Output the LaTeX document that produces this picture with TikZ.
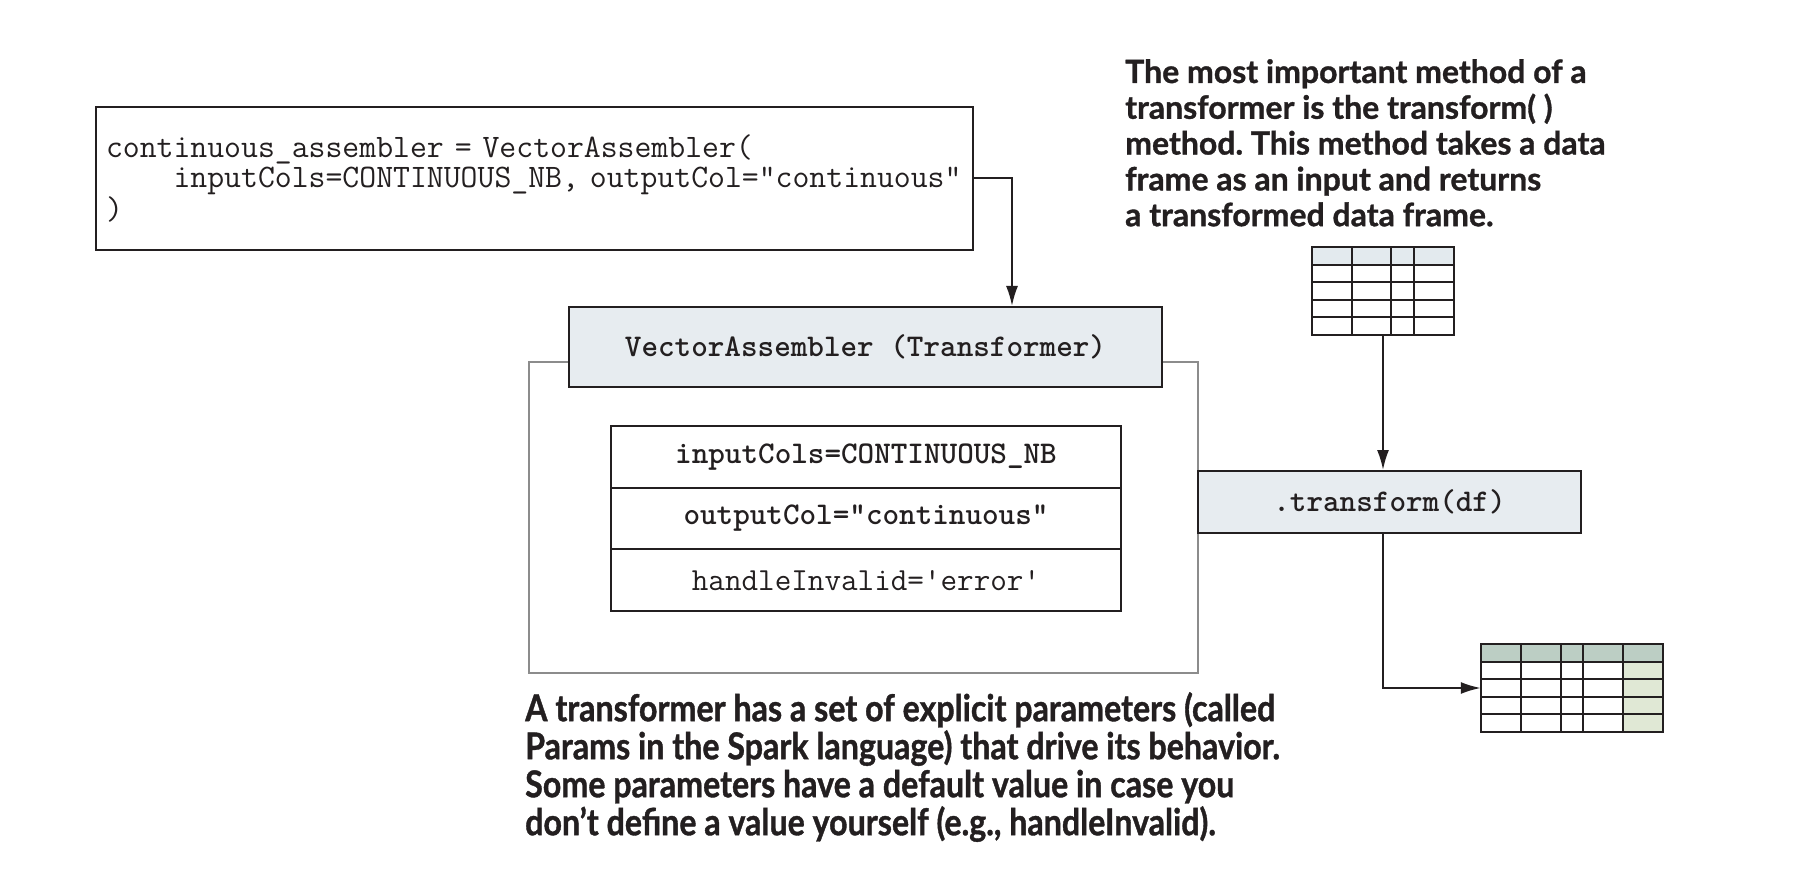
\documentclass[tikz,border=0pt]{standalone}
\usepackage{fontspec}
\newfontfamily\annfont{Lato}[BoldFeatures={FakeBold=1}]
\newfontfamily\annfontc{Lato}[FakeStretch=0.87,BoldFeatures={FakeBold=1}]
\usetikzlibrary{arrows.meta}
\definecolor{ink}{HTML}{231F20}
\definecolor{hdr}{HTML}{E7ECF0}
\definecolor{outerg}{HTML}{8C8C8C}
\definecolor{thead}{HTML}{E3EAEE}
\definecolor{ghead}{HTML}{BCCEC4}
\definecolor{gcol}{HTML}{E0E8D5}
\frenchspacing
\begin{document}
\begin{tikzpicture}[x=1pt,y=-1pt,
  codefont/.style={font=\ttfamily\fontsize{32.2}{30}\selectfont},
  box/.style={draw=ink, line width=2pt, rectangle, inner sep=0pt, text=ink, codefont},
  boldbox/.style={box, font=\ttfamily\bfseries\fontsize{31.6}{30}\selectfont},
  arr/.style={draw=ink, line width=2pt, -{Latex[length=20pt,width=12pt]}},
  grid/.style={draw=ink, line width=2pt},
  note/.style={anchor=north west, inner sep=0pt, align=left, text=ink}]
\fill[white] (0,0) rectangle (1810,874);
\useasboundingbox (0,0) rectangle (1810,874);

% outer transformer frame
\node[draw=outerg, line width=2pt, rectangle, minimum width=669pt, minimum height=311pt] (outer) at (863.5,517.5) {};

% code box
\node[box, font=\ttfamily\fontsize{32.8}{30}\selectfont, minimum width=877pt, minimum height=143pt, text width=857pt, align=left] (code) at (534.5,178.5)
  {continuous\_assembler = VectorAssembler(\\\phantom{xxxx}inputCols=CONTINUOUS\_NB, outputCol="continuous"\\)};

% header
\node[boldbox, fill=hdr, minimum width=593pt, minimum height=80pt] (va) at (865.5,347) {VectorAssembler (Transformer)};

% params
\node[boldbox, minimum width=510pt, minimum height=61.7pt] (p1) at (866,456.8) {inputCols=CONTINUOUS\_NB};
\node[boldbox, minimum width=510pt, minimum height=61.7pt] (p2) at (866,518.5) {outputCol="continuous"};
\node[box, minimum width=510pt, minimum height=61.7pt] (p3) at (866,580.2) {handleInvalid='error'};

% transform
\node[boldbox, fill=hdr, minimum width=383pt, minimum height=62pt] (tr) at (1389.5,502) {.transform(df)};

% input table
\node[rectangle, minimum width=142pt, minimum height=88pt, inner sep=0pt] (tin) at (1383,291) {};
\fill[thead] (1312,247) rectangle (1454,264.6);
\foreach \yy in {264.6,282.2,299.8,317.4} \draw[grid] (1312,\yy) -- (1454,\yy);
\foreach \xx in {1352,1391,1414} \draw[grid] (\xx,247) -- (\xx,335);
\draw[grid] (tin.north west) rectangle (tin.south east);

% output table
\node[rectangle, minimum width=182pt, minimum height=88pt, inner sep=0pt] (tout) at (1572,688) {};
\fill[ghead] (1481,644) rectangle (1663,661.6);
\fill[gcol] (1623,661.6) rectangle (1663,732);
\foreach \yy in {661.6,679.2,696.8,714.4} \draw[grid] (1481,\yy) -- (1663,\yy);
\foreach \xx in {1521,1561,1583,1623} \draw[grid] (\xx,644) -- (\xx,732);
\draw[grid] (tout.north west) rectangle (tout.south east);

% connectors
\coordinate (bend) at (1012,178.5);
\draw[arr] (code.east) -- (bend) -- (bend |- va.north);
\draw[arr] (tin.south) -- (tin.south |- tr.north);
\draw[arr] (tr.south -| tin.south) |- (tout.west);

% notes
\node[note, font=\annfont\bfseries\fontsize{32}{35.8}\selectfont] (note1) at (1125,59)
  {The most important method of a\\transformer is the transform( )\\method. This method takes a data\\frame as an input and returns\\a transformed data frame.};
\node[note, font=\annfontc\bfseries\fontsize{37}{38}\selectfont] (note2) at (525,692)
  {A transformer has a set of explicit parameters (called\\Params in the Spark language) that drive its behavior.\\Some parameters have a default value in case you\\don’t define a value yourself (e.g., handleInvalid).};
\end{tikzpicture}
\end{document}
